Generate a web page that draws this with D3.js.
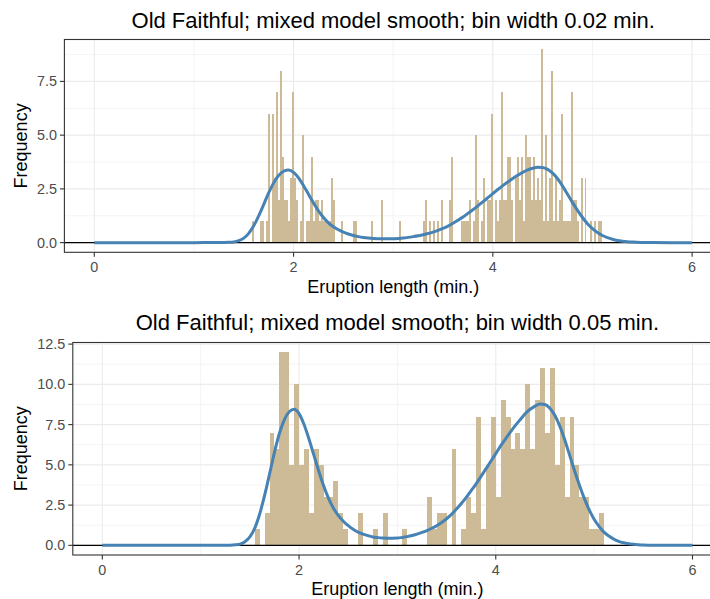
<!DOCTYPE html>
<html>
<head>
<meta charset="utf-8">
<script src="https://cdn.jsdelivr.net/npm/d3@7"></script>
<style>
  body { margin: 0; background: #fff; }
  text { font-family: "Liberation Sans", Arial, Helvetica, sans-serif; }
</style>
</head>
<body>
<div id="chart"></div>
<script>

// histogram, bin width 0.02 min: right edge of each non-empty bin and its count
var binEnd02 = [1.60,1.68,1.70,1.74,1.76,1.80,1.82,1.84,1.86,1.88,1.90,1.92,1.94,1.96,1.98,2.00,2.02,2.04,2.08,2.10,
  2.14,2.16,2.18,2.20,2.22,2.24,2.26,2.28,2.30,2.32,2.34,2.36,2.38,2.40,2.42,2.50,2.62,2.64,2.80,2.90,
  3.08,3.32,3.34,3.38,3.42,3.46,3.50,3.58,3.60,3.70,3.72,3.74,3.76,3.78,3.82,3.84,3.86,3.90,3.92,3.96,
  3.98,4.00,4.04,4.06,4.08,4.10,4.12,4.14,4.16,4.18,4.20,4.24,4.26,4.28,4.30,4.32,4.34,4.36,4.38,4.40,
  4.42,4.44,4.46,4.48,4.50,4.52,4.54,4.56,4.58,4.60,4.62,4.64,4.66,4.68,4.70,4.72,4.74,4.76,4.78,4.80,
  4.82,4.84,4.86,4.90,4.94,5.00,5.04,5.08,5.10];
var count02 = [1,1,1,1,6,6,3,7,2,8,4,2,2,1,3,7,3,2,1,5,
  1,1,2,4,1,2,2,1,2,1,1,1,1,3,2,1,1,1,1,2,
  1,1,2,1,1,1,2,2,4,1,1,1,1,2,1,5,2,1,3,2,
  2,6,2,1,2,7,2,2,4,4,2,3,4,2,4,1,5,4,4,2,
  4,2,3,2,9,1,5,1,3,8,1,3,1,2,6,1,1,1,1,7,
  2,2,1,3,3,1,1,1,1];

// histogram, bin width 0.05 min
var binEnd05 = [1.60,1.70,1.75,1.80,1.85,1.90,1.95,2.00,2.05,2.10,2.15,2.20,2.25,2.30,2.35,2.40,2.45,2.50,
  2.65,2.80,2.90,3.10,3.35,3.40,3.45,3.50,3.60,3.70,3.75,3.80,3.85,3.90,3.95,4.00,4.05,4.10,
  4.15,4.20,4.25,4.30,4.35,4.40,4.45,4.50,4.55,4.60,4.65,4.70,4.75,4.80,4.85,4.90,4.95,5.00,5.05,5.10];
var count05 = [1,2,7,6,12,12,5,10,5,6,2,6,5,3,3,4,2,1,
  2,1,2,1,3,1,2,2,6,1,3,2,8,1,5,8,3,9,
  8,6,7,6,10,6,9,11,7,11,5,8,3,8,5,3,3,1,1,2];

// mixture-model smooth
var curveX = [0,0.5,1.0,1.2,1.3,1.35,1.4,1.45,1.5,1.55,1.6,1.65,1.7,1.75,1.8,1.85,1.9,1.95,2.0,2.05,
  2.1,2.15,2.2,2.25,2.3,2.35,2.4,2.45,2.5,2.55,2.6,2.65,2.7,2.75,2.8,2.85,2.9,2.95,3.0,3.05,
  3.1,3.15,3.2,3.25,3.3,3.35,3.4,3.45,3.5,3.55,3.6,3.65,3.7,3.75,3.8,3.85,3.9,3.95,4.0,4.05,
  4.1,4.15,4.2,4.25,4.3,4.35,4.4,4.45,4.5,4.55,4.6,4.65,4.7,4.75,4.8,4.85,4.9,4.95,5.0,5.05,
  5.1,5.15,5.2,5.25,5.3,5.35,5.4,5.45,5.5,5.55,5.6,5.8,6.0];
var curve02 = [0,0,0,0.001,0.005,0.012,0.03,0.09,0.21,0.43,0.78,1.24,1.77,2.31,2.78,3.12,3.32,3.38,3.27,3.01,
  2.65,2.25,1.85,1.48,1.17,0.92,0.74,0.60,0.49,0.40,0.33,0.28,0.24,0.21,0.19,0.18,0.175,0.175,0.18,0.195,
  0.215,0.245,0.28,0.32,0.37,0.425,0.49,0.57,0.66,0.77,0.90,1.04,1.19,1.36,1.53,1.71,1.90,2.09,2.28,2.47,
  2.65,2.82,2.98,3.13,3.27,3.38,3.46,3.51,3.50,3.41,3.23,2.97,2.63,2.25,1.86,1.50,1.17,0.88,0.65,0.47,
  0.33,0.23,0.155,0.10,0.065,0.04,0.025,0.015,0.008,0.004,0.002,0,0];
var curve05 = [0,0,0,0.002,0.012,0.03,0.075,0.22,0.52,1.07,1.95,3.10,4.42,5.78,6.95,7.80,8.30,8.45,8.18,7.52,
  6.62,5.62,4.62,3.70,2.92,2.30,1.85,1.50,1.22,1.00,0.82,0.70,0.60,0.52,0.48,0.45,0.44,0.44,0.45,0.49,
  0.54,0.61,0.70,0.80,0.92,1.06,1.22,1.42,1.65,1.92,2.25,2.60,2.98,3.40,3.82,4.28,4.75,5.22,5.70,6.18,
  6.62,7.05,7.45,7.82,8.18,8.45,8.65,8.78,8.75,8.52,8.08,7.42,6.58,5.62,4.65,3.75,2.92,2.20,1.62,1.18,
  0.82,0.58,0.39,0.25,0.16,0.10,0.062,0.038,0.02,0.01,0.005,0,0];

var xTicks = [0, 2, 4, 6];
var xMinor = [1, 3, 5];
var yTicks02 = [0, 2.5, 5, 7.5];
var yLabels02 = ["0.0", "2.5", "5.0", "7.5"];
var yMinor02 = [1.25, 3.75, 6.25, 8.75];
var yTicks05 = [0, 2.5, 5, 7.5, 10, 12.5];
var yLabels05 = ["0.0", "2.5", "5.0", "7.5", "10.0", "12.5"];
var yMinor05 = [1.25, 3.75, 6.25, 8.75, 11.25];

var W = 710, H = 599;

var svg = d3.select("#chart").append("svg")
    .attr("width", W)
    .attr("height", H);

function drawPanel(p) {
    var x = d3.scaleLinear().domain([-0.3, 6.3]).range([p.left, p.right]);
    var y = d3.scaleLinear().domain(p.yDomain).range([p.bottom, p.top]);

    var g = svg.append("g");

    // minor + major grid
    g.selectAll("line.xminor").data(xMinor).enter().append("line")
        .attr("x1", d => x(d)).attr("x2", d => x(d))
        .attr("y1", p.top).attr("y2", p.bottom)
        .attr("stroke", "#ebebeb").attr("stroke-width", 0.55);
    g.selectAll("line.yminor").data(p.yMinor).enter().append("line")
        .attr("x1", p.left).attr("x2", p.right)
        .attr("y1", d => y(d)).attr("y2", d => y(d))
        .attr("stroke", "#ebebeb").attr("stroke-width", 0.55);
    g.selectAll("line.xmajor").data(xTicks).enter().append("line")
        .attr("x1", d => x(d)).attr("x2", d => x(d))
        .attr("y1", p.top).attr("y2", p.bottom)
        .attr("stroke", "#ebebeb").attr("stroke-width", 1.1);
    g.selectAll("line.ymajor").data(p.yTicks).enter().append("line")
        .attr("x1", p.left).attr("x2", p.right)
        .attr("y1", d => y(d)).attr("y2", d => y(d))
        .attr("stroke", "#ebebeb").attr("stroke-width", 1.1);

    // bars
    g.selectAll("rect.bar").data(p.ends).enter().append("rect")
        .attr("x", d => x(d - p.bw))
        .attr("width", d => x(d) - x(d - p.bw))
        .attr("y", (d, i) => y(p.counts[i]))
        .attr("height", (d, i) => y(0) - y(p.counts[i]))
        .attr("fill", "#cdba96")
        .attr("shape-rendering", "crispEdges");

    // zero line
    g.append("line")
        .attr("x1", p.left).attr("x2", p.right)
        .attr("y1", y(0)).attr("y2", y(0))
        .attr("stroke", "#000").attr("stroke-width", 1.3);

    // smooth
    var line = d3.line()
        .x(d => x(d))
        .y((d, i) => y(p.curve[i]))
        .curve(d3.curveMonotoneX);
    g.append("path")
        .attr("d", line(curveX))
        .attr("fill", "none")
        .attr("stroke", "#4682b4")
        .attr("stroke-width", 3)
        .attr("stroke-linejoin", "round");

    // panel border
    g.append("rect")
        .attr("x", p.left).attr("y", p.top)
        .attr("width", p.right - p.left).attr("height", p.bottom - p.top)
        .attr("fill", "none").attr("stroke", "#333").attr("stroke-width", 1.1);

    // axes ticks and labels
    g.selectAll("line.xt").data(xTicks).enter().append("line")
        .attr("x1", d => x(d)).attr("x2", d => x(d))
        .attr("y1", p.bottom).attr("y2", p.bottom + 4.5)
        .attr("stroke", "#333").attr("stroke-width", 1.1);
    g.selectAll("text.xt").data(xTicks).enter().append("text")
        .attr("x", d => x(d)).attr("y", p.bottom + 19.5)
        .attr("text-anchor", "middle")
        .attr("font-size", "14.4px").attr("fill", "#4d4d4d")
        .text(d => d);
    g.selectAll("line.yt").data(p.yTicks).enter().append("line")
        .attr("x1", p.left - 4.5).attr("x2", p.left)
        .attr("y1", d => y(d)).attr("y2", d => y(d))
        .attr("stroke", "#333").attr("stroke-width", 1.1);
    g.selectAll("text.yt").data(p.yTicks).enter().append("text")
        .attr("x", p.left - 7.5).attr("y", d => y(d) + 5)
        .attr("text-anchor", "end")
        .attr("font-size", "14.4px").attr("fill", "#4d4d4d")
        .text((d, i) => p.yLabels[i]);

    var cx = (p.left + p.right) / 2;
    g.append("text")
        .attr("x", cx).attr("y", p.titleY)
        .attr("text-anchor", "middle")
        .attr("font-size", "22px").attr("fill", "#000")
        .text(p.title);
    g.append("text")
        .attr("x", cx).attr("y", p.bottom + p.xTitleGap)
        .attr("text-anchor", "middle")
        .attr("font-size", "18px").attr("fill", "#000")
        .text("Eruption length (min.)");
    g.append("text")
        .attr("transform", "translate(27," + ((p.top + p.bottom) / 2) + ") rotate(-90)")
        .attr("text-anchor", "middle")
        .attr("font-size", "18px").attr("fill", "#000")
        .text("Frequency");
}

drawPanel({
    left: 64.4, right: 722, top: 39.5, bottom: 252.3,
    yDomain: [-0.45, 9.45], yTicks: yTicks02, yLabels: yLabels02, yMinor: yMinor02,
    ends: binEnd02, counts: count02, bw: 0.02, curve: curve02,
    title: "Old Faithful; mixed model smooth; bin width 0.02 min.", titleY: 28, xTitleGap: 41
});

drawPanel({
    left: 72.8, right: 722, top: 342.5, bottom: 555,
    yDomain: [-0.6, 12.6], yTicks: yTicks05, yLabels: yLabels05, yMinor: yMinor05,
    ends: binEnd05, counts: count05, bw: 0.05, curve: curve05,
    title: "Old Faithful; mixed model smooth; bin width 0.05 min.", titleY: 330, xTitleGap: 39.5
});

</script>
</body>
</html>
